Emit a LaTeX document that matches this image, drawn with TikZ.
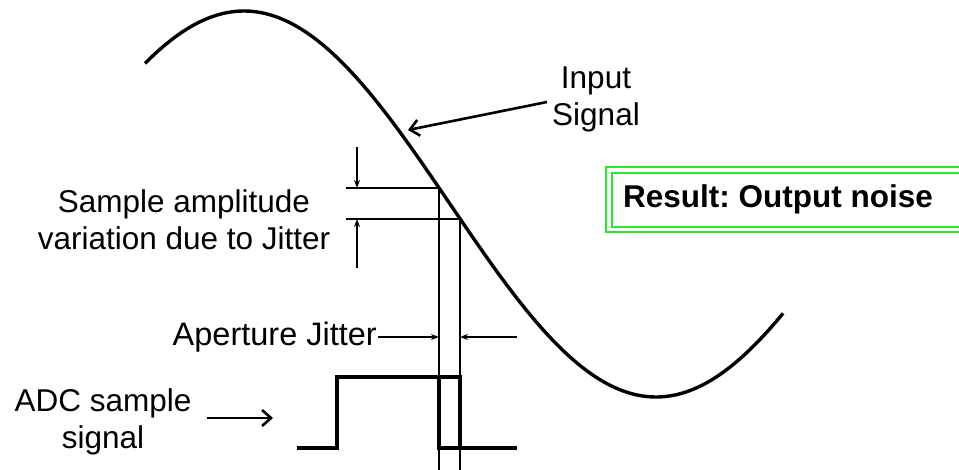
\documentclass[tikz,border=0pt]{standalone}
\usepackage{fontspec}
\setmainfont{Liberation Sans}
\usetikzlibrary{arrows.meta}
\definecolor{boxgreen}{RGB}{40,235,40}
\begin{document}
\begin{tikzpicture}[x=1pt,y=-1pt,
  lbl/.style={font=\fontsize{31.5}{37}\selectfont\frenchspacing, inner sep=0pt, align=center},
  guide/.style={line width=1.7pt},
  wave/.style={line width=3.4pt},
  pulse/.style={line width=3.2pt, line join=miter},
  dimarrow/.style={line width=1.5pt,-{Stealth[length=8pt,width=6pt]}},
  callout/.style={line width=2.6pt,-{Straight Barb[length=9pt,width=16pt]}},
  frameout/.style={draw=boxgreen, line width=2.8pt},
  framein/.style={draw=boxgreen, line width=1.8pt}]
\useasboundingbox (0,0) rectangle (959,469);
% input signal
\draw[wave] plot[domain=145:783,samples=160,smooth] (\x,{204-193*cos((\x-244)*0.436893)});
% sample points on the curve
\coordinate (p1) at (439,188);
\coordinate (p2) at (460,219);
\coordinate (b1) at (439,472);
\coordinate (b2) at (460,472);
\coordinate (h1) at (346,188);
\coordinate (h2) at (346,219);
\draw[guide] (p1) -- (b1);
\draw[guide] (p2) -- (b2);
\draw[guide] (h1) -- (p1);
\draw[guide] (h2) -- (p2);
% amplitude dimension arrows
\coordinate (v1s) at (357,147);
\coordinate (v1e) at (357,188);
\coordinate (v2s) at (357,268);
\coordinate (v2e) at (357,219);
\draw[dimarrow] (v1s) -- (v1e);
\draw[dimarrow] (v2s) -- (v2e);
% aperture jitter arrows
\coordinate (j1s) at (378,337);
\coordinate (j1e) at (439,337);
\coordinate (j2s) at (517,337);
\coordinate (j2e) at (460,337);
\draw[dimarrow] (j1s) -- (j1e);
\draw[dimarrow] (j2s) -- (j2e);
% ADC sample pulse
\coordinate (q0) at (297,448);
\coordinate (q1) at (337,448);
\coordinate (q2) at (337,377);
\coordinate (q3) at (460,377);
\coordinate (q4) at (460,448);
\coordinate (q5) at (517,448);
\coordinate (r1) at (439,377);
\coordinate (r2) at (439,448);
\draw[pulse] (q0) -- (q1) -- (q2) -- (q3) -- (q4) -- (q5);
\draw[pulse] (r1) -- (r2) -- (q4);
% labels
\node[lbl, anchor=base] (amp) at (184,249) {Sample amplitude\\variation due to Jitter};
\node[lbl, anchor=base] (inp) at (596,125) {Input\\Signal};
\node[lbl, anchor=base] (adc) at (103,448) {ADC sample\\signal};
\node[lbl, anchor=base east, font=\fontsize{32.5}{37}\selectfont] (apt) at (377,345) {Aperture Jitter};
\node[lbl, anchor=base west, font=\fontsize{31.5}{37}\selectfont\bfseries\frenchspacing] (res) at (623,207) {Result: Output noise};
% callout arrows
\coordinate (ia) at (547,102);
\coordinate (ib) at (408,130);
\draw[callout] (ia) -- (ib);
\coordinate (aa) at (207,418);
\coordinate (ab) at (273,418);
\draw[callout] (aa) -- (ab);
% result frame
\draw[frameout] (606,167) rectangle (975,232);
\draw[framein] (612,173) rectangle (975,227);
\end{tikzpicture}
\end{document}
